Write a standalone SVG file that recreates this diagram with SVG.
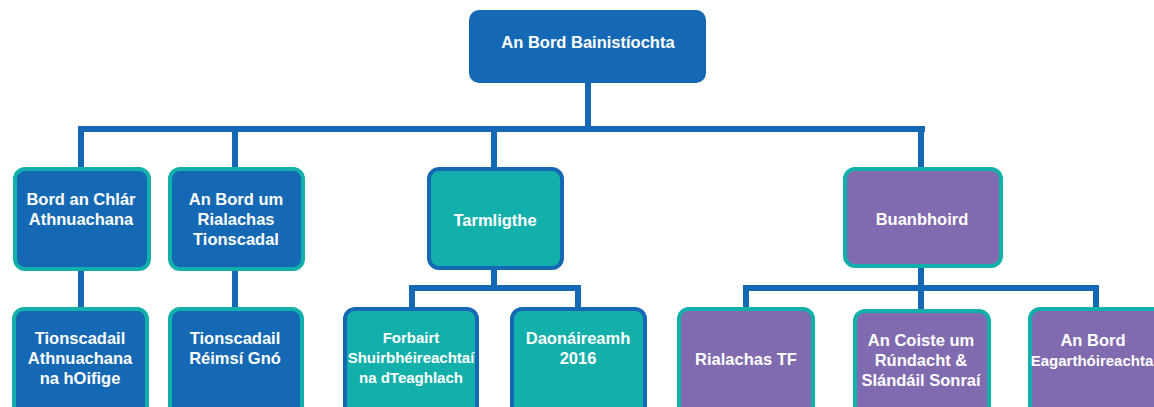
<svg xmlns="http://www.w3.org/2000/svg" width="1154" height="407" viewBox="0 0 1154 407">
<style>
.t{font-family:"Liberation Sans",Arial,sans-serif;font-weight:bold;font-size:16.5px;fill:#fff;text-anchor:middle}
.s{font-size:15px}
.b{fill:#1569b4;stroke:#13b0ab;stroke-width:4}
.g{fill:#13b0ab;stroke:#1569b4;stroke-width:4}
.p{fill:#806bb0;stroke:#13b0ab;stroke-width:4}
.c{fill:none;stroke:#1569b4;stroke-width:6}
</style>
<rect width="1154" height="407" fill="#fff"/>
<g id="connectors">
<path class="c" d="M588 83V129M78 129H925M81 129V168M235 129V168M494 129V168M921 129V168"/>
<path class="c" d="M81 270V308M235 270V308"/>
<path class="c" d="M494 269V288M412 288H578M412 285V308M578 285V308"/>
<path class="c" d="M921 267V288M746 288H1096M746 285V308M921 288V310M1096 285V308"/>
</g>
<g id="n-top">
<rect x="469" y="10" width="237" height="73" rx="10" fill="#1569b4"/>
<text class="t" x="588" y="47.5">An Bord Bainistíochta</text>
</g>
<g id="n-clar">
<rect class="b" x="15" y="169" width="134" height="100" rx="10"/>
<text class="t" x="81" y="205">Bord an Chlár</text>
<text class="t" x="81" y="225">Athnuachana</text>
</g>
<g id="n-rialachas">
<rect class="b" x="170" y="169" width="133" height="100" rx="10"/>
<text class="t" x="236" y="205">An Bord um</text>
<text class="t" x="236" y="225">Rialachas</text>
<text class="t" x="236" y="245">Tionscadal</text>
</g>
<g id="n-tarmligthe">
<rect class="g" x="429" y="169" width="133" height="99" rx="10"/>
<text class="t" x="495" y="226">Tarmligthe</text>
</g>
<g id="n-buanbhoird">
<rect class="p" x="845" y="169" width="156" height="97" rx="10"/>
<text class="t" x="922" y="225">Buanbhoird</text>
</g>
<g id="n-athnuachana">
<rect class="b" x="14" y="309" width="133" height="110" rx="10"/>
<text class="t" x="80" y="344">Tionscadail</text>
<text class="t" x="80" y="364">Athnuachana</text>
<text class="t" x="80" y="384">na hOifige</text>
</g>
<g id="n-reimsi">
<rect class="b" x="170" y="309" width="132" height="110" rx="10"/>
<text class="t" x="235" y="344">Tionscadail</text>
<text class="t" x="235" y="364">Réimsí Gnó</text>
</g>
<g id="n-forbairt">
<rect class="g" x="345" y="309" width="132" height="110" rx="10"/>
<text class="t s" x="411" y="343">Forbairt</text>
<text class="t s" x="411" y="363">Shuirbhéireachtaí</text>
<text class="t s" x="411" y="383">na dTeaghlach</text>
</g>
<g id="n-daonaireamh">
<rect class="g" x="512" y="309" width="133" height="110" rx="10"/>
<text class="t" x="578" y="344">Daonáireamh</text>
<text class="t" x="578" y="364">2016</text>
</g>
<g id="n-rialachastf">
<rect class="p" x="679" y="309" width="134" height="110" rx="10"/>
<text class="t" x="746" y="365">Rialachas TF</text>
</g>
<g id="n-coiste">
<rect class="p" x="855" y="311" width="134" height="110" rx="10"/>
<text class="t" x="921" y="346">An Coiste um</text>
<text class="t" x="921" y="366">Rúndacht &amp;</text>
<text class="t" x="921" y="386">Slándáil Sonraí</text>
</g>
<g id="n-eagarthoireacht">
<rect class="p" x="1030" y="309" width="134" height="110" rx="10"/>
<text class="t" x="1093" y="346">An Bord</text>
<text class="t s" x="1092" y="366">Eagarthóireachta</text>
</g>
</svg>
